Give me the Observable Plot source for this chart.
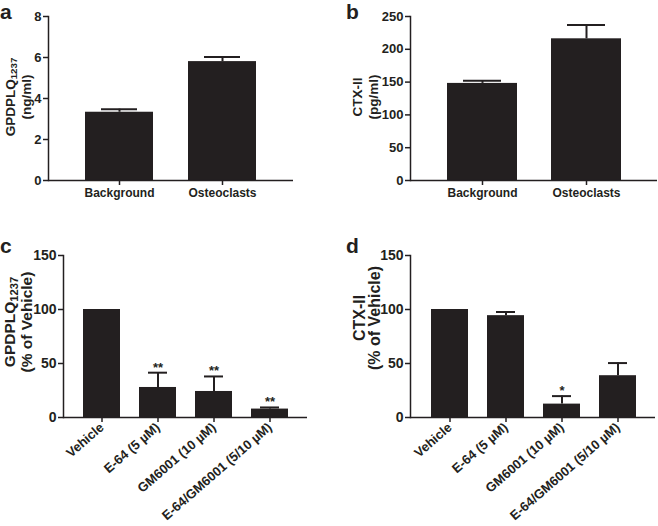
<!DOCTYPE html>
<html>
<head>
<meta charset="utf-8">
<script src="https://cdn.jsdelivr.net/npm/d3@7"></script>
<script src="https://cdn.jsdelivr.net/npm/@observablehq/plot@0.6"></script>
<style>
  html, body { margin: 0; padding: 0; background: #fff; }
  #fig { position: relative; width: 658px; height: 526px; background: #fff; overflow: hidden;
         font-family: "Liberation Sans", Arial, Helvetica, sans-serif; font-weight: bold; color: #231f20; }
  .panel { position: absolute; }
  .letter { position: absolute; font-size: 21px; font-weight: bold; line-height: normal; }
  .ytitle { position: absolute; transform: translate(-50%, -50%) rotate(-90deg); white-space: nowrap;
            text-align: center; font-weight: bold; }
  .ytitle sub { font-size: 0.72em; vertical-align: -0.25em; line-height: 0; }
</style>
</head>
<body>
<div id="fig"></div>
<script>
// ---------- data ----------
const groupsAB = ["Background", "Osteoclasts"];
const gpdplqMean = [3.33, 5.80];
const gpdplqSem = [0.15, 0.22];
const ctxMean = [148, 216];
const ctxSem = [4, 21];

const groupsCD = ["Vehicle", "E-64 (5 µM)", "GM6001 (10 µM)", "E-64/GM6001 (5/10 µM)"];
const gpdplqPct = [100, 27.8, 24.1, 7.8];
const gpdplqPctSem = [0, 13.7, 13.9, 1.5];
const gpdplqSig = ["", "**", "**", "**"];
const ctxPct = [100, 94.3, 12.4, 38.7];
const ctxPctSem = [0, 3.4, 7.4, 11.7];
const ctxSig = ["", "", "*", ""];

const ticksA = [0, 2, 4, 6, 8];
const ticksB = [0, 50, 100, 150, 200, 250];
const ticksCD = [0, 50, 100, 150];

// ---------- helpers ----------
const INK = "#231f20";
const fig = document.getElementById("fig");

function rows(groups, mean, sem, sig) {
  return groups.map((g, i) => ({group: g, mean: mean[i], top: mean[i] + sem[i], sem: sem[i], sig: sig ? sig[i] : ""}));
}

function panel(opts) {
  const data = rows(opts.groups, opts.mean, opts.sem, opts.sig);
  const withErr = data.filter(d => d.sem > 0);
  const plot = Plot.plot({
    width: opts.width, height: opts.height,
    marginLeft: opts.ml, marginRight: opts.mr, marginTop: opts.mt, marginBottom: opts.mb,
    style: {fontFamily: '"Liberation Sans", Arial, Helvetica, sans-serif', fontWeight: "bold",
            fontSize: "12px", color: INK, background: "transparent", overflow: "visible"},
    x: {type: "band", domain: opts.groups, paddingInner: opts.pi, paddingOuter: opts.po, align: opts.align, label: null},
    y: {domain: opts.ydomain, nice: false, label: null},
    marks: [
      Plot.barY(data, {x: "group", y: "mean", fill: INK}),
      Plot.ruleX(withErr, {x: "group", y1: "mean", y2: "top", stroke: INK, strokeWidth: 2}),
      Plot.tickY(withErr, {x: "group", y: "top", stroke: INK, strokeWidth: 2, insetLeft: opts.cap, insetRight: opts.cap}),
      Plot.text(data.filter(d => d.sig), {x: "group", y: "top", text: "sig", dy: -1, lineAnchor: "bottom",
                fontSize: 13, fontWeight: "bold", fill: INK}),
      Plot.axisY({ticks: opts.yticks, tickSize: 5, tickPadding: 2, strokeWidth: 1.5, fontSize: opts.tickFont, label: null}),
      Plot.axisX({tickSize: 5, tickPadding: 3, strokeWidth: 1.5, fontSize: opts.xFont, label: null,
                  tickRotate: opts.rotate || 0}),
      Plot.frame({anchor: "left", stroke: INK, strokeWidth: 1.5}),
      Plot.ruleY([0], {stroke: INK, strokeWidth: 1.5})
    ]
  });
  plot.classList.add("panel");
  plot.style.left = opts.left + "px";
  plot.style.top = opts.top + "px";
  fig.appendChild(plot);

  const l = document.createElement("div");
  l.className = "letter";
  l.textContent = opts.letter;
  l.style.left = opts.letterX + "px";
  l.style.top = opts.letterY + "px";
  fig.appendChild(l);

  const t = document.createElement("div");
  t.className = "ytitle";
  t.innerHTML = opts.title;
  t.style.left = opts.titleX + "px";
  t.style.top = opts.titleY + "px";
  t.style.fontSize = opts.titleFont + "px";
  t.style.lineHeight = opts.titleLH + "px";
  fig.appendChild(t);
}

panel({
  groups: groupsAB, mean: gpdplqMean, sem: gpdplqSem,
  left: 0, top: 0, width: 329, height: 215, ml: 48, mr: 36, mt: 16, mb: 35,
  pi: 0.34, po: 0.35, align: 0.5, ydomain: [0, 8], yticks: ticksA, cap: 16, tickFont: 13, xFont: 12,
  letter: "a", letterX: 0, letterY: 0,
  title: "GPDPLQ<sub>1237</sub><br>(ng/ml)", titleX: 19, titleY: 97, titleFont: 13.5, titleLH: 16
});
panel({
  groups: groupsAB, mean: ctxMean, sem: ctxSem,
  left: 329, top: 0, width: 329, height: 215, ml: 81, mr: 1, mt: 16, mb: 35,
  pi: 0.33, po: 0.35, align: 0.5, ydomain: [0, 250], yticks: ticksB, cap: 16, tickFont: 13, xFont: 12,
  letter: "b", letterX: 346, letterY: 0,
  title: "CTX-II<br>(pg/ml)", titleX: 366, titleY: 97, titleFont: 13.5, titleLH: 16
});
panel({
  groups: groupsCD, mean: gpdplqPct, sem: gpdplqPctSem, sig: gpdplqSig,
  left: 0, top: 240, width: 329, height: 286, ml: 63, mr: 22, mt: 15, mb: 109,
  pi: 0.345, po: 0.33, align: 0.5, ydomain: [0, 150], yticks: ticksCD, cap: 9, tickFont: 14, xFont: 13,
  rotate: -41,
  letter: "c", letterX: 0, letterY: 234,
  title: "GPDPLQ<sub>1237</sub><br>(% of Vehicle)", titleX: 18, titleY: 322, titleFont: 15.5, titleLH: 17
});
panel({
  groups: groupsCD, mean: ctxPct, sem: ctxPctSem, sig: ctxSig,
  left: 329, top: 240, width: 329, height: 286, ml: 81, mr: 3, mt: 15, mb: 109,
  pi: 0.335, po: 0.344, align: 0.535, ydomain: [0, 150], yticks: ticksCD, cap: 9, tickFont: 14, xFont: 13,
  rotate: -41,
  letter: "d", letterX: 346, letterY: 234,
  title: "CTX-II<br>(% of Vehicle)", titleX: 367, titleY: 318, titleFont: 16, titleLH: 15
});
</script>
</body>
</html>
